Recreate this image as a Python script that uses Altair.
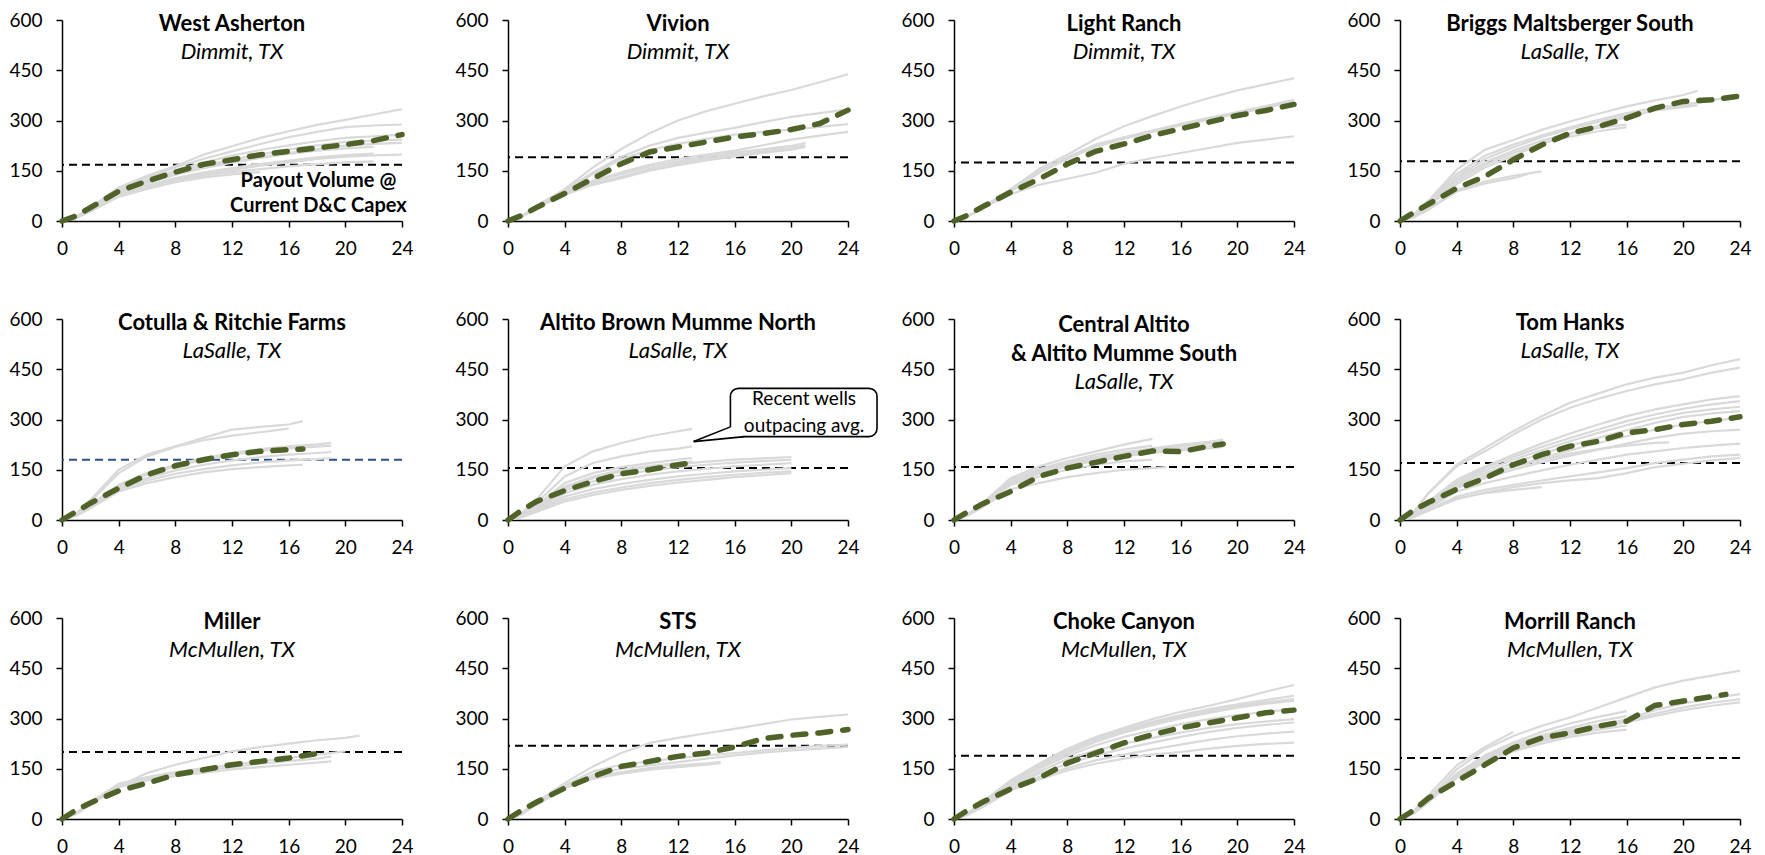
import altair as alt
import pandas as pd

# ---------------------------------------------------------------- data
MONTH_GRID = [0, 1, 2, 4, 6, 8, 10, 12, 14, 16, 18, 20, 22, 24]
X_TICKS = [0, 4, 8, 12, 16, 20, 24]
Y_TICKS = [0, 150, 300, 450, 600]

panel_titles = ["West Asherton", "Vivion", "Light Ranch", "Briggs Maltsberger South",
                "Cotulla & Ritchie Farms", "Altito Brown Mumme North",
                ["Central Altito", "& Altito Mumme South"], "Tom Hanks",
                "Miller", "STS", "Choke Canyon", "Morrill Ranch"]
panel_counties = ["Dimmit, TX", "Dimmit, TX", "Dimmit, TX", "LaSalle, TX",
                  "LaSalle, TX", "LaSalle, TX", "LaSalle, TX", "LaSalle, TX",
                  "McMullen, TX", "McMullen, TX", "McMullen, TX", "McMullen, TX"]
payout_volumes = [168, 190, 175, 178, 180, 155, 158, 170, 200, 219, 189, 182]
payout_colors = ["#000000", "#000000", "#000000", "#000000", "#2B4F86", "#000000",
                 "#000000", "#000000", "#000000", "#000000", "#000000", "#000000"]

# each well: values at MONTH_GRID[:n-1] followed by the value at its end month
west_asherton_wells = [
    [0, 12, 40, 100, 135, 164, 198, 223, 248, 268, 287, 302, 318, 334],
    [0, 12, 38, 98, 130, 160, 186, 208, 230, 250, 266, 280, 285, 288],
    [0, 12, 36, 92, 122, 150, 175, 195, 212, 226, 238, 248, 253, 258],
    [0, 11, 35, 90, 118, 145, 166, 183, 199, 213, 226, 236, 240, 243],
    [0, 11, 33, 86, 114, 140, 160, 176, 190, 203, 215, 225, 230, 233],
    [0, 11, 33, 85, 112, 138, 158, 174, 188, 200, 210, 217, 221],
    [0, 10, 30, 80, 106, 128, 145, 158, 170, 180, 190, 197, 201],
    [0, 10, 30, 76, 100, 122, 136, 146, 155, 163, 170, 175, 178],
    [0, 10, 30, 80, 104, 125, 140, 152, 165, 175, 185, 192, 196, 198],
    [0, 9, 28, 72, 96, 116, 130, 139, 146],
]
west_asherton_ends = [24, 24, 24, 24, 24, 22, 22, 22, 24, 14]
west_asherton_avg = [0, 15, 40, 89, 119, 146, 169, 183, 198, 208, 218, 228, 240, 258]
west_asherton_avg_end = 24

vivion_wells = [
    [0, 15, 45, 95, 160, 215, 262, 300, 328, 350, 372, 391, 414, 438],
    [0, 15, 45, 92, 145, 192, 225, 248, 264, 278, 295, 311, 322, 333],
    [0, 15, 44, 90, 140, 185, 212, 230, 245, 258, 266, 273, 281, 289],
    [0, 14, 42, 85, 120, 145, 168, 185, 198, 210, 226, 243, 255, 266],
    [0, 15, 42, 85, 118, 140, 162, 178, 192, 204, 214, 224, 233],
    [0, 14, 40, 82, 112, 132, 155, 172, 186, 198, 208, 218, 226],
    [0, 13, 38, 78, 108, 128, 150, 167, 181, 193, 203, 213, 221],
]
vivion_ends = [24, 24, 24, 24, 21, 21, 21]
vivion_avg = [0, 17, 40, 82, 127, 171, 206, 221, 236, 251, 261, 273, 291, 331]
vivion_avg_end = 24

light_ranch_wells = [
    [0, 15, 40, 95, 155, 198, 245, 283, 313, 342, 367, 390, 408, 426],
    [0, 15, 40, 90, 148, 190, 228, 250, 270, 290, 308, 325, 343, 362],
    [0, 15, 40, 88, 143, 185, 222, 245, 266, 285, 303, 320, 338, 357],
    [0, 15, 38, 80, 108, 126, 144, 171, 188, 203, 218, 233, 243, 253],
]
light_ranch_ends = [24, 24, 24, 24]
light_ranch_avg = [0, 18, 42, 86, 125, 170, 208, 230, 255, 275, 295, 315, 330, 348]
light_ranch_avg_end = 24

briggs_wells = [
    [0, 20, 60, 153, 213, 242, 272, 297, 320, 342, 360, 376, 389],
    [0, 18, 55, 140, 195, 228, 255, 280, 302, 322, 338, 348, 352],
    [0, 18, 52, 130, 185, 220, 250, 275, 296, 315, 330, 340, 345],
    [0, 18, 50, 125, 175, 210, 240, 262, 278, 288],
    [0, 17, 48, 118, 168, 203, 232, 252, 268, 280],
    [0, 15, 45, 110, 160, 195, 230, 260, 285, 310, 330, 345, 360, 376],
    [0, 12, 35, 93, 118, 135, 148],
    [0, 12, 33, 88, 112, 128, 140],
    [0, 20, 60, 140, 158],
]
briggs_ends = [21, 21, 21, 16, 16, 24, 10, 9, 5]
briggs_avg = [0, 26, 50, 98, 133, 183, 227, 262, 282, 307, 337, 357, 362, 373]
briggs_avg_end = 24

cotulla_wells = [
    [0, 20, 60, 150, 195, 220, 245, 270, 278, 285, 295],
    [0, 18, 55, 140, 190, 218, 238, 252, 262, 273],
    [0, 15, 45, 105, 140, 165, 185, 200, 212, 220, 226, 230],
    [0, 15, 45, 100, 135, 160, 180, 195, 206, 214, 219, 222],
    [0, 14, 40, 95, 125, 148, 165, 178, 188, 195, 200, 203],
    [0, 14, 38, 90, 118, 138, 152, 163, 172, 178, 182, 185],
    [0, 12, 35, 85, 110, 128, 142, 152, 158, 163, 165],
]
cotulla_ends = [17, 16, 19, 19, 19, 19, 17]
cotulla_avg = [0, 25, 50, 95, 135, 162, 180, 195, 205, 210, 212]
cotulla_avg_end = 17

altito_brown_wells = [
    [0, 22, 60, 160, 205, 230, 250, 265, 272],
    [0, 18, 50, 130, 170, 190, 205, 213, 220],
    [0, 15, 42, 110, 140, 158, 170, 180, 185],
    [0, 15, 40, 100, 130, 150, 162, 170, 175],
    [0, 14, 38, 95, 125, 145, 158, 167, 174, 180, 184, 188],
    [0, 13, 35, 88, 115, 135, 148, 158, 165, 171, 176, 180],
    [0, 12, 32, 80, 105, 122, 135, 145, 153, 160, 165, 170],
    [0, 10, 28, 70, 92, 108, 120, 130, 138, 145, 150, 155],
    [0, 10, 26, 62, 82, 97, 110, 120, 128, 135, 141, 145],
    [0, 9, 24, 55, 75, 90, 102, 112, 120, 128, 134, 140],
]
altito_brown_ends = [13, 13, 13, 13, 20, 20, 20, 20, 20, 20]
altito_brown_avg = [0, 30, 55, 88, 115, 138, 150, 165, 168]
altito_brown_avg_end = 12.5

central_altito_wells = [
    [0, 18, 50, 125, 160, 185, 205, 225, 242],
    [0, 18, 48, 120, 152, 175, 195, 210, 222],
    [0, 15, 42, 105, 130, 150, 165, 175, 180],
    [0, 14, 38, 92, 110, 128, 140, 150, 155, 158],
    [0, 16, 45, 115, 148, 170, 188, 202, 214, 225, 233, 240],
    [0, 16, 44, 112, 145, 167, 184, 198, 210, 220, 228, 232],
    [0, 15, 42, 110, 140, 162, 180, 194, 205, 213, 220, 225],
    [0, 15, 42, 108, 138, 160, 176, 190, 200, 208, 214, 218],
]
central_altito_ends = [14, 14, 14, 15, 19, 19, 19, 19]
central_altito_avg = [0, 25, 48, 85, 130, 155, 172, 190, 206, 204, 220, 227]
central_altito_avg_end = 19

tom_hanks_wells = [
    [0, 25, 80, 165, 215, 265, 310, 350, 378, 405, 425, 440, 462, 480],
    [0, 25, 80, 160, 205, 255, 300, 335, 362, 385, 405, 420, 440, 455],
    [0, 20, 55, 120, 160, 195, 228, 258, 285, 310, 330, 345, 360, 370],
    [0, 18, 50, 115, 155, 188, 218, 245, 270, 295, 315, 332, 345, 355],
    [0, 18, 48, 110, 148, 180, 208, 235, 260, 283, 303, 320, 330, 338],
    [0, 16, 45, 105, 140, 170, 198, 222, 245, 268, 290, 308, 318, 325],
    [0, 15, 42, 100, 132, 160, 185, 208, 230, 250, 270, 285, 296, 305],
    [0, 14, 40, 95, 125, 150, 172, 192, 210, 228, 245, 258, 265, 270],
    [0, 12, 35, 85, 110, 130, 148, 165, 180, 195, 205, 215, 222, 228],
    [0, 10, 30, 70, 90, 105, 118, 130, 142, 155, 170, 180, 190, 195],
    [0, 10, 28, 62, 82, 98, 110, 118, 125, 140, 158, 168, 178, 185],
    [0, 15, 42, 100, 130, 158, 180, 198, 212, 222, 230, 232],
    [0, 10, 28, 65, 80, 90, 98],
]
tom_hanks_ends = [24, 24, 24, 24, 24, 24, 24, 24, 24, 24, 24, 19, 10]
tom_hanks_avg = [0, 30, 52, 92, 125, 165, 195, 220, 235, 260, 270, 285, 295, 308]
tom_hanks_avg_end = 24

miller_wells = [
    [0, 18, 45, 97, 137, 162, 182, 202, 215, 225, 235, 242, 249],
    [0, 18, 50, 105, 125, 140, 152, 162, 172, 182, 192, 202],
    [0, 15, 45, 100, 120, 135, 145, 155, 165, 173, 180, 187],
    [0, 15, 42, 95, 115, 128, 138, 148, 155, 162, 168, 172],
]
miller_ends = [21, 20, 19, 19]
miller_avg = [0, 27, 48, 84, 107, 132, 147, 162, 172, 182, 195, 199]
miller_avg_end = 18.5

sts_wells = [
    [0, 20, 50, 107, 157, 197, 227, 242, 256, 269, 283, 297, 305, 312],
    [0, 18, 48, 100, 142, 162, 172, 182, 190, 197, 205, 212, 218, 222],
    [0, 15, 45, 95, 132, 150, 160, 170, 180, 190, 198, 205, 210, 215],
    [0, 16, 45, 95, 125, 140, 152, 160, 166, 170],
    [0, 15, 42, 92, 120, 135, 147, 155, 162, 167],
]
sts_ends = [24, 24, 24, 15, 15]
sts_avg = [0, 27, 50, 92, 127, 157, 172, 187, 197, 215, 240, 250, 257, 267]
sts_avg_end = 24

choke_canyon_wells = [
    [0, 18, 50, 115, 165, 210, 245, 272, 298, 320, 338, 358, 380, 400],
    [0, 18, 48, 112, 160, 205, 240, 268, 290, 310, 328, 342, 355, 368],
    [0, 18, 48, 110, 158, 200, 235, 262, 285, 305, 322, 337, 348, 358],
    [0, 17, 46, 108, 155, 195, 230, 258, 280, 300, 317, 332, 344, 353],
    [0, 16, 45, 105, 150, 188, 220, 245, 265, 283, 298, 310, 320, 328],
    [0, 15, 42, 100, 142, 178, 205, 225, 242, 258, 272, 283, 291, 298],
    [0, 15, 40, 95, 135, 165, 190, 210, 228, 245, 260, 272, 281, 288],
    [0, 14, 38, 90, 125, 152, 175, 192, 208, 222, 236, 247, 255, 261],
    [0, 13, 35, 85, 118, 145, 165, 180, 192, 200, 210, 218, 224, 228],
]
choke_canyon_ends = [24, 24, 24, 24, 24, 24, 24, 24, 24]
choke_canyon_avg = [0, 27, 50, 90, 122, 167, 197, 227, 252, 272, 287, 302, 317, 325]
choke_canyon_avg_end = 24

morrill_wells = [
    [0, 22, 60, 148, 208, 248, 278, 303, 333, 363, 393, 413, 428, 443],
    [0, 25, 70, 160, 215, 260],
    [0, 20, 55, 135, 185, 220, 245, 265, 282, 297, 325, 345, 360, 373],
    [0, 20, 55, 132, 182, 215, 240, 260, 277, 292, 315, 333, 347, 358],
    [0, 20, 55, 130, 180, 212, 237, 257, 274, 288, 308, 325, 338, 348],
    [0, 20, 55, 135, 190, 228, 260, 285, 305, 322],
    [0, 20, 55, 132, 185, 222, 250, 272, 292, 307],
    [0, 18, 52, 128, 180, 215, 242, 262, 279, 292],
    [0, 18, 50, 125, 175, 208, 232, 252, 267, 279],
    [0, 18, 50, 122, 170, 202, 225, 245, 258, 267],
]
morrill_ends = [24, 8, 24, 24, 24, 16, 16, 16, 16, 16]
morrill_avg = [0, 27, 62, 112, 162, 212, 242, 257, 277, 292, 339, 352, 365, 372]
morrill_avg_end = 23

# annotations (text anchored at the first line)
payout_note = "Payout Volume @\nCurrent D&C Capex"
payout_note_x = [18.1]
payout_note_y = [119]
callout_note = "Recent wells\noutpacing avg."
callout_note_x = [20.9]
callout_note_y = [360]
callout_box_x = [15.7, 26.05]
callout_box_y = [393, 249]
callout_tip = [13.1, 234]
callout_base_a = [15.7, 278]
callout_base_b = [16.7, 249]

# ---------------------------------------------------------------- build
GRAY = "#D9D9D9"
GREEN = "#4F6228"
FONT = "Lato"

panel_wells = [west_asherton_wells, vivion_wells, light_ranch_wells, briggs_wells,
               cotulla_wells, altito_brown_wells, central_altito_wells, tom_hanks_wells,
               miller_wells, sts_wells, choke_canyon_wells, morrill_wells]
panel_ends = [west_asherton_ends, vivion_ends, light_ranch_ends, briggs_ends,
              cotulla_ends, altito_brown_ends, central_altito_ends, tom_hanks_ends,
              miller_ends, sts_ends, choke_canyon_ends, morrill_ends]
panel_avgs = [west_asherton_avg, vivion_avg, light_ranch_avg, briggs_avg,
              cotulla_avg, altito_brown_avg, central_altito_avg, tom_hanks_avg,
              miller_avg, sts_avg, choke_canyon_avg, morrill_avg]
panel_avg_ends = [west_asherton_avg_end, vivion_avg_end, light_ranch_avg_end, briggs_avg_end,
                  cotulla_avg_end, altito_brown_avg_end, central_altito_avg_end,
                  tom_hanks_avg_end, miller_avg_end, sts_avg_end, choke_canyon_avg_end,
                  morrill_avg_end]


def series_months(vals, end):
    return MONTH_GRID[:len(vals) - 1] + [end]


def wells_frame(wells, ends):
    rows = []
    for i, (vals, end) in enumerate(zip(wells, ends)):
        for m, v in zip(series_months(vals, end), vals):
            rows.append({"well": i, "month": m, "value": v})
    return pd.DataFrame(rows)


def avg_frame(vals, end):
    return pd.DataFrame({"month": series_months(vals, end), "value": vals})


xscale = alt.Scale(domain=[0, 24], nice=False, zero=False)
yscale = alt.Scale(domain=[0, 600], nice=False)
xaxis = alt.Axis(values=X_TICKS, title=None, labelFlush=False, labelPadding=12)
yaxis = alt.Axis(values=Y_TICKS, title=None, labelPadding=14)


def X(field="month"):
    return alt.X(f"{field}:Q", scale=xscale, axis=xaxis)


def Y(field="value"):
    return alt.Y(f"{field}:Q", scale=yscale, axis=yaxis)


def panel(i):
    layers = []
    layers.append(
        alt.Chart(pd.DataFrame({"value": [payout_volumes[i]]}))
        .mark_rule(color=payout_colors[i], strokeWidth=2, strokeDash=[8, 5])
        .encode(y=Y())
    )
    layers.append(
        alt.Chart(wells_frame(panel_wells[i], panel_ends[i]))
        .mark_line(color=GRAY, strokeWidth=2.2, strokeJoin="round")
        .encode(x=X(), y=Y(), detail="well:N")
    )
    layers.append(
        alt.Chart(avg_frame(panel_avgs[i], panel_avg_ends[i]))
        .mark_line(color=GREEN, strokeWidth=5.5, strokeDash=[13, 12], strokeCap="round")
        .encode(x=X(), y=Y())
    )
    if i == 0:
        layers.append(
            alt.Chart(pd.DataFrame({"month": payout_note_x, "value": payout_note_y,
                                    "label": [payout_note]}))
            .mark_text(font=FONT, fontSize=20, fontWeight="bold", color="black",
                       lineBreak="\n", lineHeight=25, align="center", baseline="middle")
            .encode(x=X(), y=Y(), text="label:N")
        )
    if i == 5:
        tx, ty = callout_tip
        ax_, ay_ = callout_base_a
        bx_, by_ = callout_base_b
        y_on_tb = ty + (ax_ - tx) / (bx_ - tx) * (by_ - ty)
        box = pd.DataFrame({"month": [callout_box_x[0]], "month2": [callout_box_x[1]],
                            "value": [callout_box_y[0]], "value2": [callout_box_y[1]]})
        layers.append(
            alt.Chart(box).mark_rect(fill="white", stroke="black", strokeWidth=1.6,
                                     cornerRadius=8)
            .encode(x=X(), x2="month2:Q", y=Y(), y2="value2:Q")
        )
        wedge = pd.DataFrame({"month": [tx, ax_, bx_], "value": [ty, ay_, by_],
                              "value2": [ty, y_on_tb, by_]})
        layers.append(
            alt.Chart(wedge).mark_area(fill="white", opacity=1)
            .encode(x=X(), y=Y(), y2="value2:Q")
        )
        sides = pd.DataFrame({"month": [tx, tx], "value": [ty, ty],
                              "month2": [ax_, bx_], "value2": [ay_, by_]})
        layers.append(
            alt.Chart(sides).mark_rule(color="black", strokeWidth=1.6)
            .encode(x=X(), y=Y(), x2="month2:Q", y2="value2:Q")
        )
        layers.append(
            alt.Chart(pd.DataFrame({"month": callout_note_x, "value": callout_note_y,
                                    "label": [callout_note]}))
            .mark_text(font=FONT, fontSize=19, color="black", lineBreak="\n",
                       lineHeight=27, align="center", baseline="middle")
            .encode(x=X(), y=Y(), text="label:N")
        )
    two_line = isinstance(panel_titles[i], list)
    title = alt.TitleParams(
        text=panel_titles[i], subtitle=panel_counties[i],
        font=FONT, fontSize=22, fontWeight="bold", color="black",
        subtitleFont=FONT, subtitleFontSize=22, subtitleFontStyle="italic",
        subtitleColor="black", subtitlePadding=6, lineHeight=29,
        anchor="middle", frame="group",
        offset=-84 if two_line else -53,
    )
    return alt.layer(*layers).properties(width=340, height=201, title=title)


chart = (
    alt.concat(*[panel(i) for i in range(12)], columns=4,
               spacing=alt.RowColnumber(row=98, column=106), bounds="flush",
               padding=alt.Padding(top=3, left=0, right=4, bottom=0))
    .configure(font=FONT, background="white")
    .configure_view(stroke=None)
    .configure_axis(domainColor="black", domainWidth=1.5, tickColor="black",
                    tickWidth=1.5, tickSize=6, labelFont=FONT, labelFontSize=19,
                    labelColor="black", grid=False)
)

chart.save("out.html", embed_options={"renderer": "svg", "actions": False})
